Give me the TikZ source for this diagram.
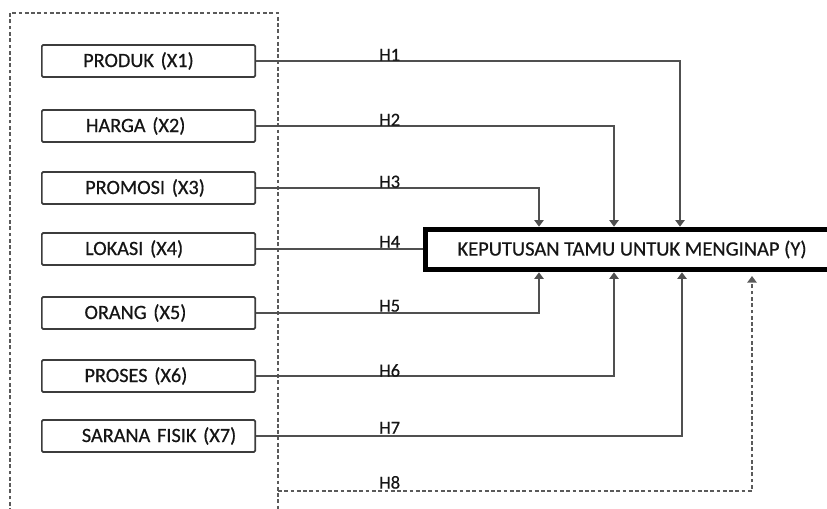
\documentclass[tikz,border=0pt]{standalone}
\usepackage{fontspec}
\setmainfont{Carlito}[FakeBold=0.5]
\usetikzlibrary{arrows.meta}
\definecolor{txt}{HTML}{151515}
\definecolor{bordc}{HTML}{3C3C3C}
\definecolor{linec}{HTML}{505050}
\definecolor{framec}{HTML}{5A5A5A}
\tikzset{
  varbox/.style={draw=bordc, line width=1.3pt, rounded corners=1pt, fill=white,
    anchor=west, text width=160pt, inner xsep=0pt, inner ysep=0pt, align=left,
    minimum height=24pt, font=\fontsize{15.2pt}{17pt}\selectfont, text=txt},
  ybox/.style={draw=black, line width=4.2pt, fill=white, minimum width=310pt,
    minimum height=30pt, inner sep=0pt, font=\fontsize{15.4pt}{17pt}\selectfont, text=txt},
  conn/.style={draw=linec, line width=1.35pt},
  arr/.style={conn, -{Triangle[width=7pt,length=5pt]}},
  frame/.style={draw=framec, line width=1.7pt, dash pattern=on 2.8pt off 1.9pt},
  darr/.style={frame, -{Triangle[width=7pt,length=5pt]}},
  hlbl/.style={anchor=south west, inner sep=0pt, text=txt, font=\fontsize{13.8pt}{15pt}\selectfont},
}
\begin{document}
\begin{tikzpicture}[x=0.75pt,y=-0.75pt]
\useasboundingbox (0,0) rectangle (827,509);
% dashed frame
\draw[frame] (10,512) -- (10,13) -- (278,13) -- (278,512);
% variable boxes
\node[varbox] (x1) at (41,61) {\hspace*{31pt}PRODUK (X1)};
\node[varbox] (x2) at (41,126) {\hspace*{33pt}HARGA (X2)};
\node[varbox] (x3) at (41,188) {\hspace*{32.5pt}PROMOSI (X3)};
\node[varbox] (x4) at (41,249) {\hspace*{32.5pt}LOKASI (X4)};
\node[varbox] (x5) at (41,313) {\hspace*{32pt}ORANG (X5)};
\node[varbox] (x6) at (41,376) {\hspace*{32pt}PROSES (X6)};
\node[varbox] (x7) at (41,436) {\hspace*{30pt}SARANA FISIK (X7)};
% dependent
\node[ybox] (y) at (632,249.5) {KEPUTUSAN TAMU UNTUK MENGINAP (Y)};
% column coordinates
\coordinate (c1) at (680,0);
\coordinate (c2) at (614,0);
\coordinate (c3) at (539,0);
\coordinate (c5) at (539,0);
\coordinate (c6) at (614,0);
\coordinate (c7) at (682,0);
\coordinate (h8s) at (278,491);
\coordinate (h8c) at (752,491);
\coordinate (h8e) at (752,276);
% connectors
\draw[arr] (x1.east) -| (c1 |- y.north);
\draw[arr] (x2.east) -| (c2 |- y.north);
\draw[arr] (x3.east) -| (c3 |- y.north);
\draw[conn] (x4.east) -- (x4.east -| y.west);
\draw[arr] (x5.east) -| (c5 |- y.south);
\draw[arr] (x6.east) -| (c6 |- y.south);
\draw[arr] (x7.east) -| (c7 |- y.south);
\draw[darr] (h8s) -- (h8c) -- (h8e);
% labels
\node[hlbl] (h1) at (379,61) {H1};
\node[hlbl] (h2) at (379,126) {H2};
\node[hlbl] (h3) at (379,188) {H3};
\node[hlbl] (h4) at (379,248) {H4};
\node[hlbl] (h5) at (379,312) {H5};
\node[hlbl] (h6) at (379,377) {H6};
\node[hlbl] (h7) at (379,434) {H7};
\node[hlbl] (h8) at (379,489) {H8};
\end{tikzpicture}
\end{document}
